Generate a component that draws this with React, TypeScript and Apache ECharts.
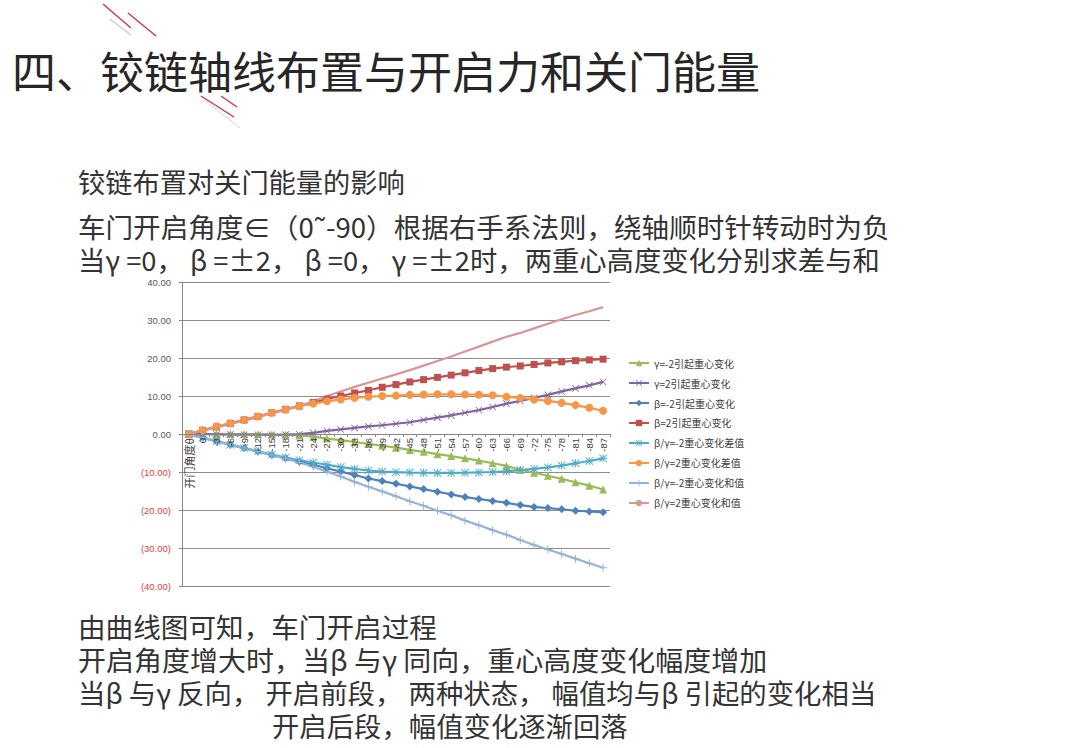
import React, { useEffect, useRef } from "react";
import * as echarts from "echarts";

const categories = [
  "开门角度θ", "0", "-3", "-6", "-9", "-12", "-15", "-18", "-21", "-24", "-27",
  "-30", "-33", "-36", "-39", "-42", "-45", "-48", "-51", "-54", "-57",
  "-60", "-63", "-66", "-69", "-72", "-75", "-78", "-81", "-84", "-87",
];

const gammaNeg2 = [0, 0, 0, 0, 0, -0.05, -0.1, -0.2, -0.4, -0.7, -1.2, -1.6, -2.1, -2.6, -3.1, -3.6, -4.2, -4.7, -5.3, -5.8, -6.4, -7.0, -7.7, -8.4, -9.4, -10.2, -11.0, -11.8, -12.7, -13.6, -14.6];
const gammaPos2 = [0, -0.05, -0.1, -0.15, -0.2, -0.2, -0.2, -0.15, -0.05, 0.3, 0.8, 1.2, 1.6, 2.0, 2.3, 2.7, 3.1, 3.7, 4.3, 4.9, 5.6, 6.3, 7.1, 8.0, 8.7, 9.5, 10.3, 11.2, 12.0, 12.8, 13.7];
const betaNeg2 = [0, -0.95, -1.9, -2.8, -3.7, -4.6, -5.5, -6.4, -7.3, -8.1, -9.0, -9.9, -10.8, -11.7, -12.4, -13.1, -13.8, -14.5, -15.2, -15.9, -16.6, -17.1, -17.6, -18.1, -18.7, -19.2, -19.5, -19.8, -20.2, -20.4, -20.6];
const betaPos2 = [0, 0.96, 1.85, 2.8, 3.7, 4.6, 5.6, 6.5, 7.4, 8.3, 9.2, 10.0, 10.8, 11.5, 12.3, 13.0, 13.7, 14.3, 14.9, 15.5, 16.1, 16.7, 17.2, 17.6, 17.9, 18.3, 18.7, 19.0, 19.3, 19.5, 19.7];
const diffNeg2 = [0, -0.95, -1.9, -2.8, -3.7, -4.55, -5.4, -6.2, -6.9, -7.5, -8.1, -8.7, -9.2, -9.6, -9.9, -10.05, -10.15, -10.2, -10.25, -10.25, -10.2, -10.1, -10.0, -9.8, -9.5, -9.2, -8.8, -8.3, -7.7, -7.1, -6.4];
const diffPos2 = [0, 0.96, 2.0, 2.8, 3.7, 4.6, 5.6, 6.4, 7.3, 8.0, 8.6, 9.1, 9.5, 9.8, 10.0, 10.1, 10.3, 10.4, 10.45, 10.45, 10.4, 10.35, 10.2, 9.8, 9.5, 9.1, 8.7, 8.2, 7.6, 6.9, 6.1];
const sumNeg2 = [0, -0.95, -1.9, -2.8, -3.7, -4.6, -5.55, -6.5, -7.5, -8.6, -9.9, -11.2, -12.6, -13.9, -15.1, -16.4, -17.7, -18.9, -20.2, -21.4, -22.8, -24.0, -25.3, -26.5, -27.9, -29.2, -30.4, -31.6, -32.8, -34.0, -35.2];
const sumPos2 = [0, 0.9, 1.75, 2.65, 3.5, 4.4, 5.4, 6.35, 7.35, 8.6, 10.0, 11.2, 12.4, 13.5, 14.6, 15.7, 16.8, 18.0, 19.2, 20.4, 21.7, 23.0, 24.3, 25.6, 26.6, 27.8, 29.0, 30.2, 31.3, 32.3, 33.4];

const seriesNames = [
  "γ=-2引起重心变化",
  "γ=2引起重心变化",
  "β=-2引起重心变化",
  "β=2引起重心变化",
  "β/γ=-2重心变化差值",
  "β/γ=2重心变化差值",
  "β/γ=-2重心变化和值",
  "β/γ=2重心变化和值",
];

const titleText = "四、铰链轴线布置与开启力和关门能量";
const topLines = [
  "铰链布置对关门能量的影响",
  "车门开启角度∈（0˜-90）根据右手系法则，绕轴顺时针转动时为负",
  "当γ =0， β =±2， β =0， γ =±2时，两重心高度变化分别求差与和",
];
const bottomLines = [
  "由曲线图可知，车门开启过程",
  "开启角度增大时，当β 与γ 同向，重心高度变化幅度增加",
  "当β 与γ 反向， 开启前段， 两种状态， 幅值均与β 引起的变化相当",
  "开启后段，幅值变化逐渐回落",
];

const X_PATH = "path://M0,0.8L0.8,0L5,4.2L9.2,0L10,0.8L5.8,5L10,9.2L9.2,10L5,5.8L0.8,10L0,9.2L4.2,5Z";
const PLUS_PATH = "path://M4.4,0H5.6V4.4H10V5.6H5.6V10H4.4V5.6H0V4.4H4.4Z";
const STAR_PATH = "path://M4.4,0H5.6V10H4.4Z M0,4.4H10V5.6H0Z M0.8,0L10,9.2L9.2,10L0,0.8Z M9.2,0L10,0.8L0.8,10L0,9.2Z";

const CJK = "'Noto Sans CJK SC', 'Noto Sans', sans-serif";
const NUM = "'Liberation Sans', 'Noto Sans CJK SC', sans-serif";

function measure(text: string, size: number): number {
  const c = document.createElement("canvas");
  const ctx = c.getContext("2d");
  if (!ctx) return 0;
  ctx.font = `${size}px 'Noto Sans CJK SC', 'Noto Sans', sans-serif`;
  return ctx.measureText(text).width;
}

function mkSeries(name: string, data: number[], color: string, symbol: string, size: number) {
  return {
    name,
    type: "line",
    data,
    symbol,
    symbolSize: size,
    showSymbol: symbol !== "none",
    lineStyle: { color, width: 2.2 },
    itemStyle: { color, borderColor: color, borderWidth: 0 },
    emphasis: { disabled: true },
    z: 3,
  };
}

export default function App() {
  const ref = useRef<HTMLDivElement>(null);
  useEffect(() => {
    if (!ref.current) return;
    const chart = echarts.init(ref.current, null, { renderer: "svg" });
    const graphics: any[] = [
      { type: "line", shape: { x1: 103, y1: 4, x2: 131, y2: 28 }, style: { stroke: "#d0303a", lineWidth: 1.3 } },
      { type: "line", shape: { x1: 128, y1: 13, x2: 156, y2: 36 }, style: { stroke: "#d0303a", lineWidth: 1.3 } },
      { type: "line", shape: { x1: 110, y1: 19, x2: 131, y2: 35 }, style: { stroke: "#d6d6d6", lineWidth: 1.6 } },
      { type: "line", shape: { x1: 201, y1: 96, x2: 234, y2: 117 }, style: { stroke: "#d0303a", lineWidth: 1.3 } },
      { type: "line", shape: { x1: 221, y1: 96, x2: 237, y2: 107 }, style: { stroke: "#d0303a", lineWidth: 1.3 } },
      { type: "line", shape: { x1: 204, y1: 100, x2: 240, y2: 128 }, style: { stroke: "#e8e8e8", lineWidth: 1.6 } },
      {
        type: "text",
        x: 12,
        y: 70,
        style: { text: titleText, fontSize: 44, fontFamily: CJK, fill: "#262626", verticalAlign: "middle" },
      },
    ];
    const FS = 27;
    const addLine = (t: string, x: number, y: number, endX: number) => {
      const w = measure(t, FS);
      const sx = w > 0 ? Math.min(1.08, Math.max(0.95, (endX - x) / w)) : 1;
      graphics.push({
        type: "text",
        x,
        y,
        scaleX: sx,
        style: { text: t, fontSize: FS, fontFamily: CJK, fill: "#333333", verticalAlign: "middle" },
      });
    };
    const topY = [182, 226, 259];
    const topEnd = [405, 890, 880];
    topLines.forEach((t, i) => addLine(t, 78, topY[i], topEnd[i]));
    const botY = [626, 659, 692, 725];
    const botX = [78, 78, 78, 272];
    const botEnd = [437, 767, 877, 628];
    bottomLines.forEach((t, i) => addLine(t, botX[i], botY[i], botEnd[i]));

    const option: any = {
      animation: false,
      backgroundColor: "#ffffff",
      graphic: graphics,
      grid: { left: 182, right: 470, top: 282, bottom: 162, containLabel: false },
      legend: {
        orient: "vertical",
        left: 628,
        top: 358,
        padding: 0,
        itemWidth: 20,
        itemHeight: 8,
        itemGap: 10,
        data: seriesNames,
        textStyle: { fontSize: 10, fontFamily: CJK, color: "#404040" },
        selectedMode: false,
      },
      xAxis: {
        type: "category",
        data: categories,
        boundaryGap: true,
        offset: -152,
        axisLine: { onZero: false, lineStyle: { color: "#868686", width: 1 } },
        axisTick: { show: true, length: 3, lineStyle: { color: "#868686" } },
        axisLabel: {
          interval: 0,
          rotate: 90,
          fontSize: 9.5,
          margin: 4,
          color: "#404040",
          fontFamily: NUM,
          formatter: (v: string, i: number) => (i === 0 ? `{c|${v}}` : v),
          rich: { c: { fontSize: 11, fontFamily: CJK, color: "#404040" } },
        },
        splitLine: { show: false },
        z: 10,
      },
      yAxis: {
        type: "value",
        min: -40,
        max: 40,
        interval: 10,
        axisLine: { show: true, lineStyle: { color: "#868686", width: 1 } },
        axisTick: { show: true, length: 3, lineStyle: { color: "#868686" } },
        splitLine: { show: true, lineStyle: { color: "#8c8c8c", width: 1 } },
        axisLabel: {
          fontSize: 9.5,
          margin: 11,
          color: "#595959",
          fontFamily: NUM,
          formatter: (v: number) =>
            v < 0 ? `{n|(${Math.abs(v).toFixed(2)})}` : v.toFixed(2),
          rich: { n: { color: "#e8413b", fontSize: 9.5, fontFamily: NUM } },
        },
      },
      series: [
        mkSeries(seriesNames[0], gammaNeg2, "#9BBB59", "triangle", 8),
        mkSeries(seriesNames[1], gammaPos2, "#8064A2", X_PATH, 7),
        mkSeries(seriesNames[2], betaNeg2, "#4F81BD", "diamond", 8),
        mkSeries(seriesNames[3], betaPos2, "#C0504D", "rect", 7),
        mkSeries(seriesNames[4], diffNeg2, "#4BACC6", STAR_PATH, 8),
        mkSeries(seriesNames[5], diffPos2, "#F79646", "circle", 8),
        mkSeries(seriesNames[6], sumNeg2, "#95B3D7", PLUS_PATH, 8),
        mkSeries(seriesNames[7], sumPos2, "#D99694", "none", 0),
      ],
    };
    chart.setOption(option);
    return () => chart.dispose();
  }, []);
  return (
    <div
      ref={ref}
      style={{ position: "fixed", left: 0, top: 0, width: 1080, height: 748, background: "#ffffff" }}
    />
  );
}
